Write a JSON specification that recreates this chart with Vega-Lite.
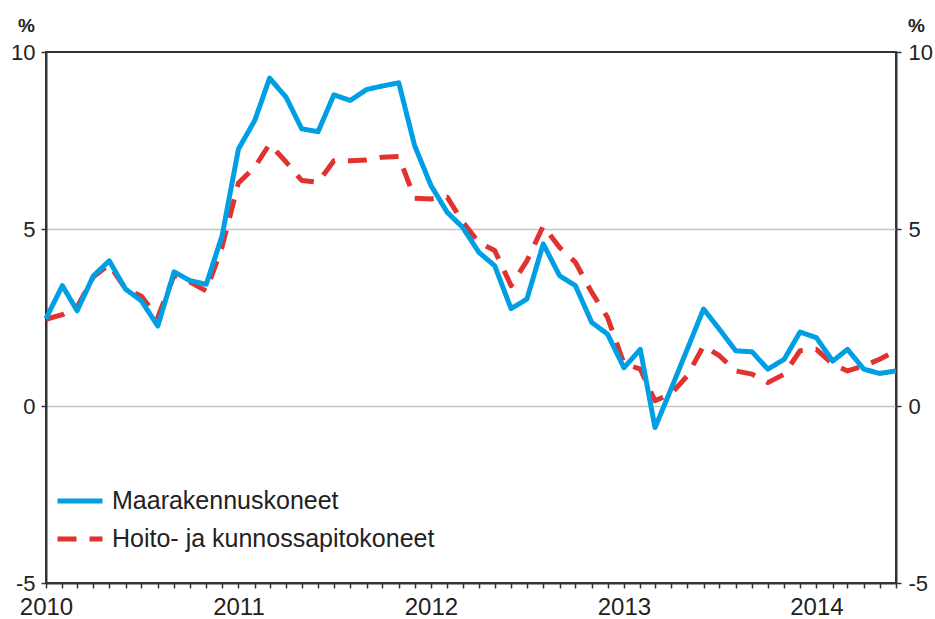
{
  "$schema": "https://vega.github.io/schema/vega-lite/v6.json",
  "width": 850,
  "height": 531,
  "autosize": {"type": "none"},
  "padding": {"left": 46, "top": 52, "right": 39, "bottom": 36},
  "background": "white",
  "config": {
    "font": "Liberation Sans",
    "view": {"stroke": "#333333", "strokeWidth": 2},
    "axis": {"labelColor": "#222222", "titleColor": "#222222", "labelFontSize": 24, "domainColor": "#333333", "domainWidth": 2, "tickColor": "#333333", "tickWidth": 1.5, "tickSize": 5}
  },
  "data": {"values": [
    {"d":"2010-01-01","s":"Maarakennuskoneet","v":2.47},
    {"d":"2010-02-01","s":"Maarakennuskoneet","v":3.40},
    {"d":"2010-03-01","s":"Maarakennuskoneet","v":2.69},
    {"d":"2010-04-01","s":"Maarakennuskoneet","v":3.68},
    {"d":"2010-05-01","s":"Maarakennuskoneet","v":4.10},
    {"d":"2010-06-01","s":"Maarakennuskoneet","v":3.30},
    {"d":"2010-07-01","s":"Maarakennuskoneet","v":2.97},
    {"d":"2010-08-01","s":"Maarakennuskoneet","v":2.26},
    {"d":"2010-09-01","s":"Maarakennuskoneet","v":3.79},
    {"d":"2010-10-01","s":"Maarakennuskoneet","v":3.54},
    {"d":"2010-11-01","s":"Maarakennuskoneet","v":3.44},
    {"d":"2010-12-01","s":"Maarakennuskoneet","v":4.81},
    {"d":"2011-01-01","s":"Maarakennuskoneet","v":7.26},
    {"d":"2011-02-01","s":"Maarakennuskoneet","v":8.07},
    {"d":"2011-03-01","s":"Maarakennuskoneet","v":9.26},
    {"d":"2011-04-01","s":"Maarakennuskoneet","v":8.73},
    {"d":"2011-05-01","s":"Maarakennuskoneet","v":7.83},
    {"d":"2011-06-01","s":"Maarakennuskoneet","v":7.75},
    {"d":"2011-07-01","s":"Maarakennuskoneet","v":8.79},
    {"d":"2011-08-01","s":"Maarakennuskoneet","v":8.63},
    {"d":"2011-09-01","s":"Maarakennuskoneet","v":8.94},
    {"d":"2011-10-01","s":"Maarakennuskoneet","v":9.04},
    {"d":"2011-11-01","s":"Maarakennuskoneet","v":9.13},
    {"d":"2011-12-01","s":"Maarakennuskoneet","v":7.36},
    {"d":"2012-01-01","s":"Maarakennuskoneet","v":6.23},
    {"d":"2012-02-01","s":"Maarakennuskoneet","v":5.47},
    {"d":"2012-03-01","s":"Maarakennuskoneet","v":5.05},
    {"d":"2012-04-01","s":"Maarakennuskoneet","v":4.34},
    {"d":"2012-05-01","s":"Maarakennuskoneet","v":3.96},
    {"d":"2012-06-01","s":"Maarakennuskoneet","v":2.75},
    {"d":"2012-07-01","s":"Maarakennuskoneet","v":3.02},
    {"d":"2012-08-01","s":"Maarakennuskoneet","v":4.58},
    {"d":"2012-09-01","s":"Maarakennuskoneet","v":3.68},
    {"d":"2012-10-01","s":"Maarakennuskoneet","v":3.40},
    {"d":"2012-11-01","s":"Maarakennuskoneet","v":2.36},
    {"d":"2012-12-01","s":"Maarakennuskoneet","v":2.03},
    {"d":"2013-01-01","s":"Maarakennuskoneet","v":1.08},
    {"d":"2013-02-01","s":"Maarakennuskoneet","v":1.60},
    {"d":"2013-03-01","s":"Maarakennuskoneet","v":-0.61},
    {"d":"2013-04-01","s":"Maarakennuskoneet","v":0.50},
    {"d":"2013-05-01","s":"Maarakennuskoneet","v":1.60},
    {"d":"2013-06-01","s":"Maarakennuskoneet","v":2.74},
    {"d":"2013-07-01","s":"Maarakennuskoneet","v":2.17},
    {"d":"2013-08-01","s":"Maarakennuskoneet","v":1.56},
    {"d":"2013-09-01","s":"Maarakennuskoneet","v":1.53},
    {"d":"2013-10-01","s":"Maarakennuskoneet","v":1.04},
    {"d":"2013-11-01","s":"Maarakennuskoneet","v":1.32},
    {"d":"2013-12-01","s":"Maarakennuskoneet","v":2.09},
    {"d":"2014-01-01","s":"Maarakennuskoneet","v":1.93},
    {"d":"2014-02-01","s":"Maarakennuskoneet","v":1.27},
    {"d":"2014-03-01","s":"Maarakennuskoneet","v":1.60},
    {"d":"2014-04-01","s":"Maarakennuskoneet","v":1.04},
    {"d":"2014-05-01","s":"Maarakennuskoneet","v":0.92},
    {"d":"2014-06-01","s":"Maarakennuskoneet","v":0.99},
    {"d":"2010-01-01","s":"Hoito- ja kunnossapitokoneet","v":2.45},
    {"d":"2010-02-01","s":"Hoito- ja kunnossapitokoneet","v":2.58},
    {"d":"2010-03-01","s":"Hoito- ja kunnossapitokoneet","v":2.8},
    {"d":"2010-04-01","s":"Hoito- ja kunnossapitokoneet","v":3.65},
    {"d":"2010-05-01","s":"Hoito- ja kunnossapitokoneet","v":4.0},
    {"d":"2010-06-01","s":"Hoito- ja kunnossapitokoneet","v":3.3},
    {"d":"2010-07-01","s":"Hoito- ja kunnossapitokoneet","v":3.1},
    {"d":"2010-08-01","s":"Hoito- ja kunnossapitokoneet","v":2.5},
    {"d":"2010-09-01","s":"Hoito- ja kunnossapitokoneet","v":3.7},
    {"d":"2010-10-01","s":"Hoito- ja kunnossapitokoneet","v":3.5},
    {"d":"2010-11-01","s":"Hoito- ja kunnossapitokoneet","v":3.25},
    {"d":"2010-12-01","s":"Hoito- ja kunnossapitokoneet","v":4.5},
    {"d":"2011-01-01","s":"Hoito- ja kunnossapitokoneet","v":6.3},
    {"d":"2011-02-01","s":"Hoito- ja kunnossapitokoneet","v":6.75},
    {"d":"2011-03-01","s":"Hoito- ja kunnossapitokoneet","v":7.4},
    {"d":"2011-04-01","s":"Hoito- ja kunnossapitokoneet","v":6.9},
    {"d":"2011-05-01","s":"Hoito- ja kunnossapitokoneet","v":6.37},
    {"d":"2011-06-01","s":"Hoito- ja kunnossapitokoneet","v":6.32},
    {"d":"2011-07-01","s":"Hoito- ja kunnossapitokoneet","v":6.93},
    {"d":"2011-08-01","s":"Hoito- ja kunnossapitokoneet","v":6.93},
    {"d":"2011-09-01","s":"Hoito- ja kunnossapitokoneet","v":6.95},
    {"d":"2011-10-01","s":"Hoito- ja kunnossapitokoneet","v":7.03},
    {"d":"2011-11-01","s":"Hoito- ja kunnossapitokoneet","v":7.05},
    {"d":"2011-12-01","s":"Hoito- ja kunnossapitokoneet","v":5.87},
    {"d":"2012-01-01","s":"Hoito- ja kunnossapitokoneet","v":5.85},
    {"d":"2012-02-01","s":"Hoito- ja kunnossapitokoneet","v":5.9},
    {"d":"2012-03-01","s":"Hoito- ja kunnossapitokoneet","v":5.2},
    {"d":"2012-04-01","s":"Hoito- ja kunnossapitokoneet","v":4.62},
    {"d":"2012-05-01","s":"Hoito- ja kunnossapitokoneet","v":4.39},
    {"d":"2012-06-01","s":"Hoito- ja kunnossapitokoneet","v":3.4},
    {"d":"2012-07-01","s":"Hoito- ja kunnossapitokoneet","v":4.1},
    {"d":"2012-08-01","s":"Hoito- ja kunnossapitokoneet","v":5.09},
    {"d":"2012-09-01","s":"Hoito- ja kunnossapitokoneet","v":4.48},
    {"d":"2012-10-01","s":"Hoito- ja kunnossapitokoneet","v":4.06},
    {"d":"2012-11-01","s":"Hoito- ja kunnossapitokoneet","v":3.21},
    {"d":"2012-12-01","s":"Hoito- ja kunnossapitokoneet","v":2.5},
    {"d":"2013-01-01","s":"Hoito- ja kunnossapitokoneet","v":1.2},
    {"d":"2013-02-01","s":"Hoito- ja kunnossapitokoneet","v":1.04},
    {"d":"2013-03-01","s":"Hoito- ja kunnossapitokoneet","v":0.15},
    {"d":"2013-04-01","s":"Hoito- ja kunnossapitokoneet","v":0.35},
    {"d":"2013-05-01","s":"Hoito- ja kunnossapitokoneet","v":0.85},
    {"d":"2013-06-01","s":"Hoito- ja kunnossapitokoneet","v":1.7},
    {"d":"2013-07-01","s":"Hoito- ja kunnossapitokoneet","v":1.42},
    {"d":"2013-08-01","s":"Hoito- ja kunnossapitokoneet","v":0.99},
    {"d":"2013-09-01","s":"Hoito- ja kunnossapitokoneet","v":0.9},
    {"d":"2013-10-01","s":"Hoito- ja kunnossapitokoneet","v":0.66},
    {"d":"2013-11-01","s":"Hoito- ja kunnossapitokoneet","v":0.9},
    {"d":"2013-12-01","s":"Hoito- ja kunnossapitokoneet","v":1.56},
    {"d":"2014-01-01","s":"Hoito- ja kunnossapitokoneet","v":1.6},
    {"d":"2014-02-01","s":"Hoito- ja kunnossapitokoneet","v":1.18},
    {"d":"2014-03-01","s":"Hoito- ja kunnossapitokoneet","v":0.99},
    {"d":"2014-04-01","s":"Hoito- ja kunnossapitokoneet","v":1.13},
    {"d":"2014-05-01","s":"Hoito- ja kunnossapitokoneet","v":1.32},
    {"d":"2014-06-01","s":"Hoito- ja kunnossapitokoneet","v":1.56}
  ]},
  "encoding": {
    "x": {
      "field": "d", "type": "temporal",
      "scale": {"type": "utc", "domain": ["2010-01-01", "2014-06-01"], "nice": false},
      "axis": {
        "title": null,
        "tickCount": {"interval": "month", "step": 1},
        "labelExpr": "utcmonth(datum.value) == 0 ? utcFormat(datum.value, '%Y') : ''",
        "labelFlush": false,
        "labelOverlap": false,
        "labelBound": false,
        "grid": false,
        "labelPadding": 7,
        "labelDx": -3
      }
    },
    "color": {
      "field": "s", "type": "nominal",
      "scale": {"domain": ["Maarakennuskoneet", "Hoito- ja kunnossapitokoneet"], "range": ["#009FE3", "#E0322F"]},
      "legend": {"orient": "none", "legendX": 9, "legendY": 424, "title": null, "padding": 0, "labelFontSize": 25, "labelColor": "#222222", "labelLimit": 0, "symbolType": "stroke", "symbolSize": 2025, "symbolStrokeWidth": 5, "labelOffset": 7, "rowPadding": -14}
    },
    "strokeDash": {
      "field": "s", "type": "nominal",
      "scale": {"domain": ["Maarakennuskoneet", "Hoito- ja kunnossapitokoneet"], "range": [[1, 0], [19, 13]]},
      "legend": {"orient": "none", "legendX": 9, "legendY": 424, "title": null, "padding": 0, "labelFontSize": 25, "labelColor": "#222222", "labelLimit": 0, "symbolType": "stroke", "symbolSize": 2025, "symbolStrokeWidth": 5, "labelOffset": 7, "rowPadding": -14}
    }
  },
  "layer": [
    {
      "transform": [{"filter": "datum.s == 'Hoito- ja kunnossapitokoneet'"}],
      "mark": {"type": "line", "strokeWidth": 5, "strokeJoin": "round"},
      "encoding": {
        "y": {
          "field": "v", "type": "quantitative",
          "scale": {"domain": [-5, 10], "nice": false, "zero": false},
          "axis": {
            "orient": "left", "values": [-5, 0, 5, 10], "title": "%", "titleAngle": 0,
            "labelExpr": "datum.value < 0 ? '-' + abs(datum.value) : '' + datum.value",
            "labelFontSize": 22, "labelDy": -1,
            "titleX": -20, "titleY": -21, "titleAlign": "center", "titleBaseline": "alphabetic",
            "titleFontSize": 19, "titleFontWeight": "bold",
            "grid": true, "gridColor": "#c4c4c4", "gridWidth": 1.5,
            "gridOpacity": {"condition": {"test": "datum.value == 0 || datum.value == 5", "value": 1}, "value": 0},
            "labelPadding": 6
          }
        }
      }
    },
    {
      "transform": [{"filter": "datum.s == 'Maarakennuskoneet'"}],
      "mark": {"type": "line", "strokeWidth": 5, "strokeJoin": "round"},
      "encoding": {
        "y": {
          "field": "v", "type": "quantitative",
          "scale": {"domain": [-5, 10], "nice": false, "zero": false},
          "axis": {
            "orient": "right", "values": [-5, 0, 5, 10], "title": "%", "titleAngle": 0,
            "labelExpr": "datum.value < 0 ? '-' + abs(datum.value) : '' + datum.value",
            "labelFontSize": 22, "labelDy": -1,
            "titleX": 20, "titleY": -21, "titleAlign": "center", "titleBaseline": "alphabetic",
            "titleFontSize": 19, "titleFontWeight": "bold",
            "grid": false,
            "labelPadding": 7
          }
        }
      }
    }
  ],
  "resolve": {"axis": {"y": "independent"}}
}
